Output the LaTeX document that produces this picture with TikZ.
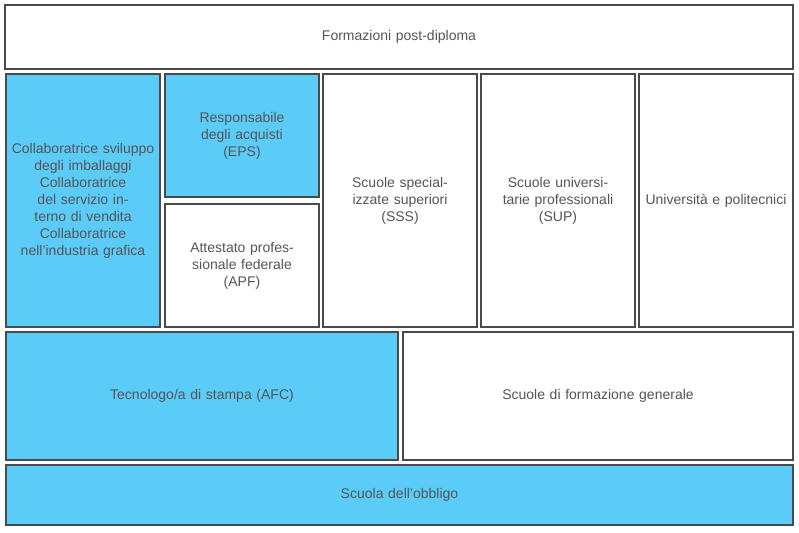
\documentclass[tikz,border=0pt]{standalone}
\usepackage{fontspec}
\setmainfont{Liberation Sans}
\definecolor{bl}{HTML}{5BCBF7}
\definecolor{ln}{HTML}{4A4A4A}
\definecolor{tx}{HTML}{555555}
\begin{document}
\begin{tikzpicture}[x=1pt,y=-1pt,
 box/.style={draw=ln,line width=1.2pt,fill=white},
 blue/.style={box,fill=bl},
 lbl/.style={text=tx,align=center,font=\fontsize{14}{17}\selectfont}]
\useasboundingbox (0,0) rectangle (799,532);
\fill[white] (0,0) rectangle (799,532);
\newcommand\bx[7]{\draw[#6] (#2,#3) rectangle (#4,#5); \node[lbl,text width=#4pt-#2pt-8pt] (#1) at ({(#2+#4)/2},{(#3+#5)/2}) {#7};}
\bx{top}{5}{5}{793}{69}{box}{Formazioni post-diploma}
\bx{col}{6}{74}{160}{327}{blue}{Collaboratrice sviluppo degli imballaggi\\Collaboratrice del servizio interno di vendita\\Collaboratrice nell’industria grafica}
\bx{eps}{165}{74}{319}{197}{blue}{Responsabile degli acquisti\\(EPS)}
\bx{apf}{165}{204}{319}{327}{box}{Attestato professionale federale\\(APF)}
\bx{sss}{323}{74}{477}{327}{box}{Scuole specializzate superiori\\(SSS)}
\bx{sup}{481}{74}{635}{327}{box}{Scuole universitarie professionali\\(SUP)}
\bx{uni}{639}{74}{793}{327}{box}{Università e politecnici}
\bx{afc}{6}{332}{398}{460}{blue}{Tecnologo/a di stampa (AFC)}
\bx{sfg}{403}{332}{793}{460}{box}{Scuole di formazione generale}
\bx{obb}{6}{465}{793}{525}{blue}{Scuola dell’obbligo}
\end{tikzpicture}
\end{document}
